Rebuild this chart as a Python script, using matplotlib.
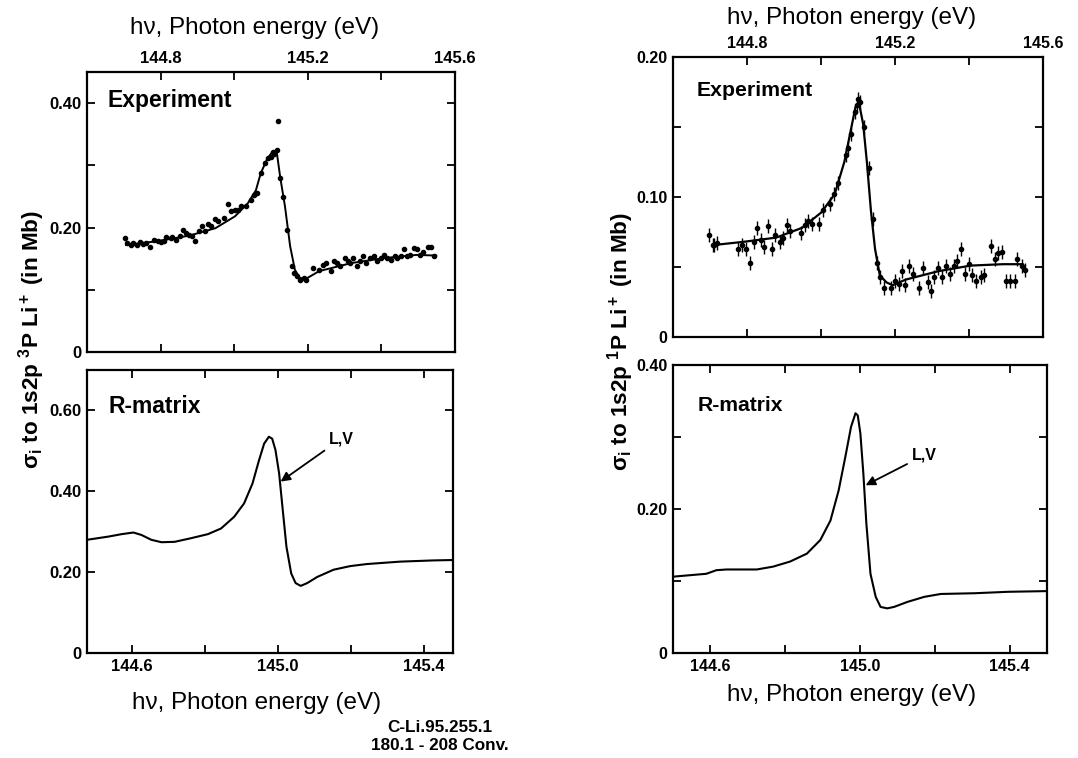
import numpy as np
import matplotlib
matplotlib.use('Agg')
import matplotlib.pyplot as plt
from matplotlib.ticker import FixedLocator, NullFormatter

plt.rcParams['font.family'] = ['Liberation Sans', 'DejaVu Sans']
plt.rcParams['mathtext.fontset'] = 'custom'
plt.rcParams['mathtext.rm'] = 'Liberation Sans:bold'
plt.rcParams['mathtext.it'] = 'Liberation Sans:bold'
plt.rcParams['mathtext.bf'] = 'Liberation Sans:bold'

# --- 1s2p 3P, experiment (points) and fitted line ---
exp3_e = [144.702, 144.710, 144.719, 144.726, 144.735, 144.744, 144.753, 144.759, 144.772, 144.783,
          144.792, 144.800, 144.809, 144.816, 144.827, 144.832, 144.843, 144.853, 144.862, 144.869,
          144.878, 144.885, 144.894, 144.903, 144.913, 144.920, 144.929, 144.936, 144.947, 144.957,
          144.971, 144.982, 144.991, 145.002, 145.010, 145.019, 145.032, 145.046, 145.053, 145.062,
          145.074, 145.083, 145.092, 145.099, 145.106, 145.109, 145.115, 145.120, 145.125, 145.132,
          145.143, 145.156, 145.162, 145.171, 145.180, 145.189, 145.196, 145.213, 145.231, 145.242,
          145.250, 145.262, 145.271, 145.280, 145.288, 145.300, 145.309, 145.315, 145.324, 145.333,
          145.341, 145.350, 145.359, 145.368, 145.379, 145.388, 145.399, 145.408, 145.416, 145.425,
          145.436, 145.443, 145.452, 145.462, 145.469, 145.478, 145.489, 145.496, 145.505, 145.514,
          145.527, 145.536, 145.544]
exp3_v = [0.183, 0.175, 0.172, 0.175, 0.172, 0.176, 0.174, 0.175, 0.169, 0.180,
          0.178, 0.177, 0.179, 0.185, 0.183, 0.185, 0.180, 0.186, 0.196, 0.191,
          0.188, 0.187, 0.179, 0.194, 0.202, 0.195, 0.206, 0.202, 0.213, 0.210,
          0.216, 0.238, 0.226, 0.228, 0.229, 0.234, 0.235, 0.244, 0.252, 0.256,
          0.287, 0.303, 0.311, 0.314, 0.321, 0.318, 0.324, 0.372, 0.279, 0.249,
          0.196, 0.138, 0.127, 0.122, 0.116, 0.119, 0.116, 0.135, 0.132, 0.140,
          0.143, 0.130, 0.146, 0.143, 0.138, 0.151, 0.147, 0.143, 0.151, 0.138,
          0.146, 0.155, 0.143, 0.151, 0.154, 0.146, 0.151, 0.156, 0.151, 0.148,
          0.155, 0.151, 0.154, 0.165, 0.155, 0.156, 0.167, 0.166, 0.156, 0.160,
          0.169, 0.169, 0.154]
fit3_e = [144.706, 144.790, 144.878, 144.949, 145.002, 145.037, 145.059, 145.072, 145.090, 145.103,
          145.115, 145.125, 145.138, 145.152, 145.165, 145.178, 145.196, 145.231, 145.319, 145.408,
          145.496, 145.549]
fit3_v = [0.172, 0.178, 0.187, 0.199, 0.218, 0.239, 0.260, 0.287, 0.311, 0.321,
          0.324, 0.281, 0.234, 0.170, 0.132, 0.119, 0.118, 0.130, 0.143, 0.151,
          0.156, 0.155]

# --- 1s2p 1P, experiment (points) and fitted line ---
exp1_e = [144.697, 144.708, 144.712, 144.719, 144.775, 144.787, 144.796, 144.807, 144.818, 144.826,
          144.837, 144.846, 144.857, 144.868, 144.877, 144.888, 144.896, 144.908, 144.917, 144.947,
          144.958, 144.966, 144.975, 144.994, 145.006, 145.023, 145.035, 145.045, 145.067, 145.073,
          145.082, 145.091, 145.096, 145.100, 145.105, 145.115, 145.129, 145.140, 145.150, 145.159,
          145.170, 145.190, 145.201, 145.210, 145.219, 145.228, 145.238, 145.249, 145.266, 145.275,
          145.288, 145.298, 145.306, 145.317, 145.327, 145.337, 145.348, 145.359, 145.368, 145.378,
          145.389, 145.400, 145.409, 145.420, 145.433, 145.440, 145.459, 145.470, 145.479, 145.488,
          145.501, 145.511, 145.523, 145.531, 145.543, 145.552]
exp1_v = [0.073, 0.066, 0.066, 0.067, 0.063, 0.066, 0.063, 0.053, 0.068, 0.078,
          0.069, 0.064, 0.079, 0.063, 0.073, 0.068, 0.071, 0.080, 0.076, 0.074,
          0.080, 0.083, 0.081, 0.081, 0.091, 0.095, 0.102, 0.110, 0.130, 0.135,
          0.145, 0.161, 0.166, 0.170, 0.168, 0.150, 0.121, 0.084, 0.053, 0.043,
          0.035, 0.035, 0.040, 0.038, 0.047, 0.037, 0.051, 0.045, 0.035, 0.049,
          0.039, 0.033, 0.043, 0.049, 0.043, 0.051, 0.045, 0.051, 0.054, 0.063,
          0.045, 0.052, 0.044, 0.040, 0.043, 0.044, 0.065, 0.056, 0.060, 0.061,
          0.040, 0.040, 0.040, 0.056, 0.051, 0.048]
fit1_e = [144.721, 144.791, 144.879, 144.949, 145.001, 145.037, 145.063, 145.080, 145.093, 145.102,
          145.114, 145.124, 145.135, 145.146, 145.159, 145.177, 145.194, 145.229, 145.317, 145.404,
          145.492, 145.545]
fit1_v = [0.066, 0.068, 0.071, 0.078, 0.089, 0.102, 0.125, 0.147, 0.164, 0.168,
          0.152, 0.125, 0.090, 0.063, 0.044, 0.039, 0.037, 0.041, 0.047, 0.051,
          0.052, 0.052]

# --- R-matrix curves (length and velocity coincide) ---
rm3_e = [144.478, 144.537, 144.573, 144.605, 144.627, 144.654, 144.682, 144.718, 144.763, 144.809,
         144.845, 144.881, 144.908, 144.931, 144.949, 144.963, 144.976, 144.985, 144.994, 145.004,
         145.013, 145.024, 145.037, 145.049, 145.063, 145.081, 145.108, 145.153, 145.199, 145.244,
         145.335, 145.426, 145.480]
rm3_v = [0.280, 0.288, 0.294, 0.298, 0.292, 0.280, 0.274, 0.275, 0.284, 0.294,
         0.308, 0.337, 0.370, 0.419, 0.477, 0.518, 0.535, 0.530, 0.502, 0.444,
         0.362, 0.263, 0.197, 0.173, 0.166, 0.173, 0.188, 0.206, 0.215, 0.220,
         0.226, 0.229, 0.230]
rm1_e = [144.500, 144.544, 144.589, 144.616, 144.643, 144.679, 144.724, 144.768, 144.813, 144.858,
         144.894, 144.921, 144.943, 144.961, 144.976, 144.988, 144.994, 145.001, 145.009, 145.017,
         145.028, 145.042, 145.055, 145.073, 145.091, 145.127, 145.172, 145.216, 145.306, 145.396,
         145.503]
rm1_v = [0.106, 0.108, 0.110, 0.115, 0.116, 0.116, 0.116, 0.120, 0.127, 0.138,
         0.157, 0.184, 0.226, 0.273, 0.314, 0.333, 0.330, 0.305, 0.249, 0.180,
         0.110, 0.078, 0.064, 0.062, 0.064, 0.071, 0.078, 0.082, 0.083, 0.085,
         0.086]

W, H = 1078, 758
fig = plt.figure(figsize=(W / 100, H / 100), dpi=100)


def box(x0, y0, x1, y1):
    # pixel box (left, top, right, bottom) -> figure fraction rect
    return [x0 / W, 1 - y1 / H, (x1 - x0) / W, (y1 - y0) / H]


def style(ax, xmaj, xmin, ymaj, ymin, ylabels, top, tsize):
    for s in ax.spines.values():
        s.set_linewidth(1.6)
    ax.xaxis.set_major_locator(FixedLocator(xmaj))
    ax.xaxis.set_minor_locator(FixedLocator(xmin))
    ax.yaxis.set_major_locator(FixedLocator(ymaj))
    ax.yaxis.set_minor_locator(FixedLocator(ymin))
    ax.xaxis.set_minor_formatter(NullFormatter())
    ax.yaxis.set_minor_formatter(NullFormatter())
    ax.set_xticklabels(['%.1f' % v for v in xmaj])
    ax.set_yticklabels(ylabels)
    ax.tick_params(which='both', direction='in', top=True, right=True, length=6, width=1.3,
                   labelsize=tsize, pad=4)
    ax.tick_params(which='both', labeltop=top, labelbottom=not top)
    for t in ax.get_xticklabels() + ax.get_yticklabels():
        t.set_fontweight('bold')


# top left: 3P experiment
ax = fig.add_axes(box(87, 72, 455, 352))
ax.errorbar(exp3_e, exp3_v, yerr=0.003, xerr=0.003, fmt='o', ms=3.0, color='black',
            elinewidth=1, capsize=0)
ax.plot(fit3_e, fit3_v, color='black', lw=1.4)
ax.set_xlim(144.6, 145.6)
ax.set_ylim(0, 0.45)
style(ax, [144.8, 145.2, 145.6], [145.0, 145.4], [0, 0.2, 0.4], [0.1, 0.3],
      ['0', '0.20', '0.40'], True, 12)
ax.text(0.055, 0.90, 'Experiment', transform=ax.transAxes, fontsize=16.5, fontweight='bold',
        va='center')

# bottom left: 3P R-matrix
ax = fig.add_axes(box(87, 370, 453, 653))
ax.plot(rm3_e, rm3_v, color='black', lw=1.5)
ax.set_xlim(144.478, 145.48)
ax.set_ylim(0, 0.70)
style(ax, [144.6, 145.0, 145.4], [144.8, 145.2], [0, 0.2, 0.4, 0.6], [],
      ['0', '0.20', '0.40', '0.60'], False, 12)
ax.text(0.06, 0.87, 'R-matrix', transform=ax.transAxes, fontsize=16.5, fontweight='bold',
        va='center')
ax.annotate('L,V', xy=(145.008, 0.424), xytext=(145.14, 0.53), fontsize=11.5,
            fontweight='bold', ha='left', va='center',
            arrowprops=dict(arrowstyle='-|>', color='black', lw=1.3, mutation_scale=14,
                            shrinkA=2, shrinkB=0))

# top right: 1P experiment
ax = fig.add_axes(box(673, 57, 1043, 337))
ax.errorbar(exp1_e, exp1_v, yerr=0.005, xerr=0.004, fmt='o', ms=3.0, color='black',
            elinewidth=1, capsize=0)
ax.plot(fit1_e, fit1_v, color='black', lw=1.6)
ax.set_xlim(144.6, 145.6)
ax.set_ylim(0, 0.20)
style(ax, [144.8, 145.2, 145.6], [145.0, 145.4], [0, 0.1, 0.2], [0.05, 0.15],
      ['0', '0.10', '0.20'], True, 11.5)
ax.text(0.065, 0.88, 'Experiment', transform=ax.transAxes, fontsize=15.3, fontweight='bold',
        va='center')

# bottom right: 1P R-matrix
ax = fig.add_axes(box(673, 365, 1047, 653))
ax.plot(rm1_e, rm1_v, color='black', lw=1.5)
ax.set_xlim(144.5, 145.5)
ax.set_ylim(0, 0.40)
style(ax, [144.6, 145.0, 145.4], [144.8, 145.2], [0, 0.2, 0.4], [0.1, 0.3],
      ['0', '0.20', '0.40'], False, 11.5)
ax.text(0.065, 0.86, 'R-matrix', transform=ax.transAxes, fontsize=15.2, fontweight='bold',
        va='center')
ax.annotate('L,V', xy=(145.015, 0.233), xytext=(145.14, 0.275), fontsize=11.5,
            fontweight='bold', ha='left', va='center',
            arrowprops=dict(arrowstyle='-|>', color='black', lw=1.3, mutation_scale=14,
                            shrinkA=2, shrinkB=0))

xl = 'h\u03bd, Photon energy (eV)'
fig.text(255 / W, 1 - 28 / H, xl, fontsize=17.5, ha='center', va='center')
fig.text(852 / W, 1 - 18 / H, xl, fontsize=17.5, ha='center', va='center')
fig.text(257 / W, 1 - 703 / H, xl, fontsize=17.5, ha='center', va='center')
fig.text(852 / W, 1 - 695 / H, xl, fontsize=17.5, ha='center', va='center')

fig.text(32 / W, 1 - 340 / H, r'$\sigma_i$ to 1s2p $^3$P Li$^+$ (in Mb)', rotation=90,
         fontsize=16.2, fontweight='bold', ha='center', va='center')
fig.text(621 / W, 1 - 342 / H, r'$\sigma_i$ to 1s2p $^1$P Li$^+$ (in Mb)', rotation=90,
         fontsize=16.2, fontweight='bold', ha='center', va='center')

fig.text(440 / W, 1 - 728 / H, 'C-Li.95.255.1', fontsize=12.3, fontweight='bold',
         ha='center', va='center')
fig.text(440 / W, 1 - 746 / H, '180.1 - 208 Conv.', fontsize=12.3, fontweight='bold',
         ha='center', va='center')

fig.savefig('out.png', dpi=100)
